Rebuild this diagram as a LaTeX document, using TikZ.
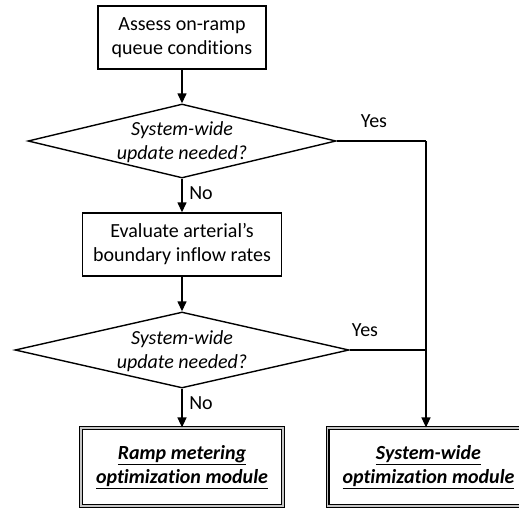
\documentclass[tikz,border=0pt]{standalone}
\usepackage{fontspec}
\setmainfont{Carlito}[Ligatures=NoCommon]
\usetikzlibrary{shapes.geometric,arrows.meta}
\tikzset{
  every node/.style={font=\fontsize{20}{24}\selectfont},
  procbox/.style={draw, line width=1.4pt, rectangle, align=center, inner sep=0pt},
  decision/.style={draw, line width=1.4pt, diamond, inner sep=0pt},
  modbox/.style={draw, line width=1.2pt, double=gray!45, double distance=1.6pt, rectangle, align=center, inner sep=0pt, fill=white},
  flow/.style={line width=1.4pt, -{Triangle[length=10pt,width=9pt]}},
  link/.style={line width=1.4pt},
  lbl/.style={inner sep=0pt}
}
\begin{document}
\begin{tikzpicture}[x=1pt,y=-1pt]
\useasboundingbox (0,0) rectangle (519,509);
\clip (0,0) rectangle (519,509);

\node[procbox, minimum width=168pt, minimum height=63pt] (assess) at (182,37.5) {Assess on-ramp\\queue conditions};

\node[decision, minimum width=308pt, minimum height=74pt] (dec1) at (182,141) {};
\node[lbl, align=center] (dec1t) at (182,142) {\itshape System-wide\\\itshape update needed?};

\node[procbox, minimum width=199pt, minimum height=63pt] (eval) at (182,244.5) {Evaluate arterial's\\boundary inflow rates};

\node[decision, minimum width=334pt, minimum height=76pt] (dec2) at (182,350) {};
\node[lbl, align=center] (dec2t) at (182,351) {\itshape System-wide\\\itshape update needed?};

\node[modbox, minimum width=202pt, minimum height=78pt] (ramp) at (182,467) {\underline{\textbf{\textit{Ramp metering}}}\\\underline{\textbf{\textit{optimization module}}}};
\node[modbox, minimum width=202pt, minimum height=78pt] (sys) at (428.5,467) {\underline{\textbf{\textit{System-wide}}}\\\underline{\textbf{\textit{optimization module}}}};

\coordinate (j1) at (426,141);
\coordinate (j2) at (426,350);

\draw[flow] (assess.south) -- (dec1.north);
\draw[flow] (dec1.south) -- (eval.north);
\draw[flow] (eval.south) -- (dec2.north);
\draw[flow] (dec2.south) -- (ramp.north);
\draw[link] (dec1.east) -- (j1);
\draw[flow] (j1) -- (j1 |- sys.north);
\draw[link] (dec2.east) -- (j2);

\node[lbl] (yes1) at (374,121) {Yes};
\node[lbl] (yes2) at (365,330) {Yes};
\node[lbl] (no1) at (201,193) {No};
\node[lbl] (no2) at (201,403) {No};
\end{tikzpicture}
\end{document}
